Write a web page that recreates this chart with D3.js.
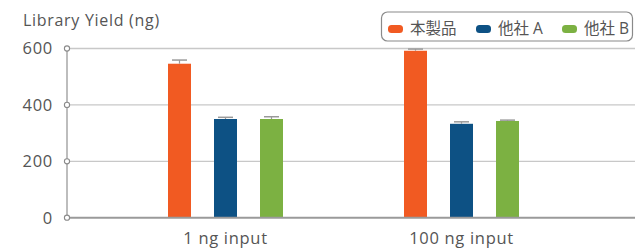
<!DOCTYPE html>
<html><head><meta charset="utf-8">
<script src="https://cdn.jsdelivr.net/npm/d3@7"></script>
<style>
html,body{margin:0;padding:0;background:#fff;}
text{font-family:"Open Sans","Noto Sans CJK JP",sans-serif;}
</style></head>
<body>
<svg id="c" width="635" height="248"></svg>
<script>
const categories = ["1 ng input", "100 ng input"];
const seriesNames = ["本製品", "他社 A", "他社 B"];
const values = [
  [546, 592],
  [350, 333],
  [350, 343]
];
const errors = [
  [13, 6],
  [6, 7],
  [8, 3]
];
const yTicks = [0, 200, 400, 600];
const colors = ["#f15a22", "#0d5184", "#7cb142"];

(function () {
const svg = d3.select("#c");
const mLeft = 67, mRight = 635, mTop = 48.5, mBottom = 217.7;
const y = d3.scaleLinear().domain([0, 600]).range([mBottom, mTop]);
const x = d3.scaleBand().domain(categories).range([107.5, 579.5]).padding(0);

// gridlines
svg.append("g").selectAll("line").data(yTicks.filter(d => d > 0)).join("line")
  .attr("x1", mLeft).attr("x2", mRight)
  .attr("y1", d => y(d)).attr("y2", d => y(d))
  .attr("stroke", "#c8c8c8").attr("stroke-width", 1.3);

// y axis line
svg.append("line").attr("x1", mLeft).attr("x2", mLeft).attr("y1", y(600)).attr("y2", y(0))
  .attr("stroke", "#9a9a9a").attr("stroke-width", 1.3);

// bars
const bw = 23;
seriesNames.forEach((s, si) => {
  const g = svg.append("g");
  categories.forEach((c, ci) => {
    const cx = x(c) + x.bandwidth() / 2 + (si - 1) * 46;
    g.append("rect").attr("x", cx - bw / 2).attr("width", bw)
      .attr("y", y(values[si][ci])).attr("height", y(0) - y(values[si][ci]))
      .attr("fill", colors[si]);
    const et = y(values[si][ci] + errors[si][ci]);
    g.append("line").attr("x1", cx).attr("x2", cx).attr("y1", et).attr("y2", y(values[si][ci]))
      .attr("stroke", "#999").attr("stroke-width", 1.2);
    g.append("line").attr("x1", cx - 7.5).attr("x2", cx + 7.5).attr("y1", et).attr("y2", et)
      .attr("stroke", "#999").attr("stroke-width", 1.5);
  });
});

// baseline
svg.append("line").attr("x1", mLeft).attr("x2", mRight).attr("y1", y(0)).attr("y2", y(0))
  .attr("stroke", "#9a9a9a").attr("stroke-width", 2);

// tick circles and labels
const tg = svg.append("g").selectAll("g").data(yTicks).join("g")
  .attr("transform", d => `translate(${mLeft},${y(d)})`);
tg.append("circle").attr("r", 2.6).attr("fill", "#fff").attr("stroke", "#8a8a8a").attr("stroke-width", 1.1);
tg.append("text").attr("x", -14).attr("dy", "0.36em").attr("text-anchor", "end")
  .attr("font-size", 16.5).attr("letter-spacing", 0.7).attr("fill", "#555").text(d => d);

// title
svg.append("text").attr("x", 23).attr("y", 26).attr("font-size", 16).attr("letter-spacing", 0.7)
  .attr("fill", "#555").text("Library Yield (ng)");

// x labels
svg.append("g").selectAll("text").data(categories).join("text")
  .attr("x", d => x(d) + x.bandwidth() / 2).attr("y", 244)
  .attr("text-anchor", "middle").attr("font-size", 16.5).attr("letter-spacing", 0.7)
  .attr("fill", "#555").text(d => d);

// legend
const lg = svg.append("g");
lg.append("rect").attr("x", 381.5).attr("y", 12).attr("width", 251).attr("height", 29)
  .attr("rx", 6).attr("fill", "#fff").attr("stroke", "#8a8a8a").attr("stroke-width", 1.2);
const lx = [388, 476, 562];
seriesNames.forEach((s, i) => {
  lg.append("rect").attr("x", lx[i]).attr("y", 25).attr("width", 15).attr("height", 8)
    .attr("rx", 3.5).attr("fill", colors[i]);
  lg.append("text").attr("x", lx[i] + 22).attr("y", 34).attr("font-size", 15.5)
    .attr("fill", "#555").text(s);
});
})();
</script>
</body></html>
